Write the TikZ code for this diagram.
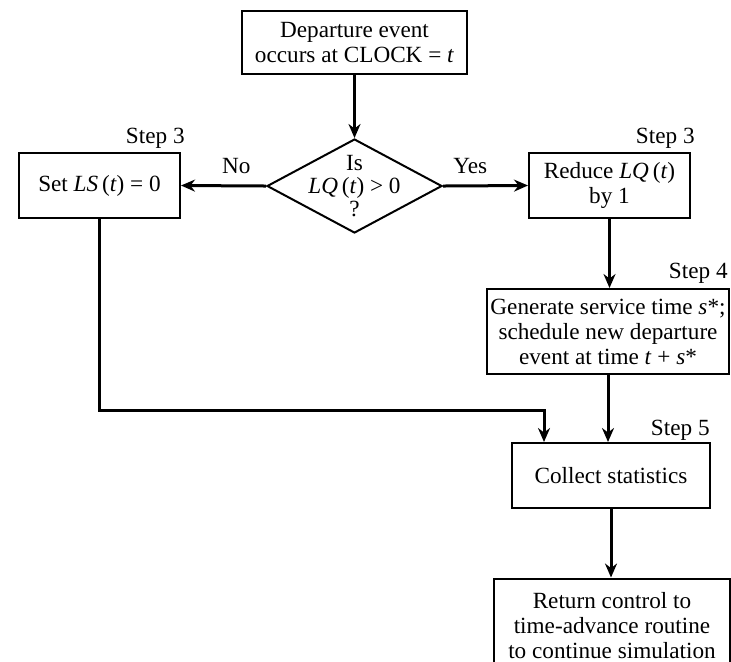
\documentclass[tikz,border=0pt]{standalone}
\usepackage{fontspec}
\setmainfont{Liberation Serif}
\usetikzlibrary{shapes.geometric, arrows.meta}
\tikzset{>={Stealth[length=7pt,width=6pt]},
  box/.style={draw, line width=1pt, rectangle, align=center, inner sep=0pt,
    font=\fontsize{11.6}{12.5}\selectfont},
  decision/.style={draw, line width=1pt, diamond, inner sep=0pt,
    minimum width=87.5pt, minimum height=47pt},
  flow/.style={->, line width=1.5pt},
  steplbl/.style={anchor=base east, inner sep=0pt, font=\fontsize{11.6}{12}\selectfont},
  answer/.style={anchor=base, inner sep=0pt, yshift=6pt, font=\fontsize{11.6}{12}\selectfont}}

\begin{document}
\begin{tikzpicture}[x=0.5pt, y=-0.5pt]
     \useasboundingbox (0,0) rectangle (731,661);
     \clip (0,0) rectangle (731,661);
     % boxes
     \node[box, minimum width=112.5pt, minimum height=31.5pt] (dep) at (354.5,42.5)
          {Departure event\\occurs at CLOCK = \textit{t}};
     \node[decision] (dec) at (354.5,186) {};
     \node[align=center, inner sep=0pt, font=\fontsize{11.6}{11.5}\selectfont] (dectxt) at (dec)
          {Is\\\textit{LQ}\,(\textit{t}) > 0\\?};
     \node[box, minimum width=80.5pt, minimum height=32.5pt] (setls) at (99.5,185.5)
          {Set \textit{LS}\,(\textit{t}) = 0};
     \node[box, minimum width=80.5pt, minimum height=32.5pt] (redlq) at (609.5,185.5)
          {Reduce \textit{LQ}\,(\textit{t})\\by 1};
     \node[box, minimum width=121pt, minimum height=42.5pt] (gen) at (608,331.5)
          {Generate service time \textit{s}*;\\schedule new departure\\event at time \textit{t} + \textit{s}*};
     \node[box, minimum width=99pt, minimum height=32.5pt] (coll) at (611,475.5)
          {Collect statistics};
     \node[box, minimum width=118pt, minimum height=50.5pt] (ret) at (612,629)
          {Return control to\\time-advance routine\\to continue simulation\vspace{3pt}};
     % step labels
     \node[steplbl] (s3a) at (185,143) {Step 3};
     \node[steplbl] (s3b) at (695,143) {Step 3};
     \node[steplbl] (s4) at (728,278) {Step 4};
     \node[steplbl] (s5) at (710,435) {Step 5};
     % connectors
     \coordinate (join) at (544,410);
     \draw[flow] (dep) -- (dec);
     \draw[flow] (dec.west) -- node[answer, pos=0.35] {No} (setls.east);
     \draw[flow] (dec.east) -- node[answer, pos=0.32] {Yes} (redlq.west);
     \draw[flow] (redlq.south) -- (redlq.south |- gen.north);
     \draw[flow] (setls.south) |- (join) -- (join |- coll.north);
     \draw[flow] (gen.south) -- (gen.south |- coll.north);
     \draw[flow] (coll.south) -- (coll.south |- ret.north);
\end{tikzpicture}
\end{document}
